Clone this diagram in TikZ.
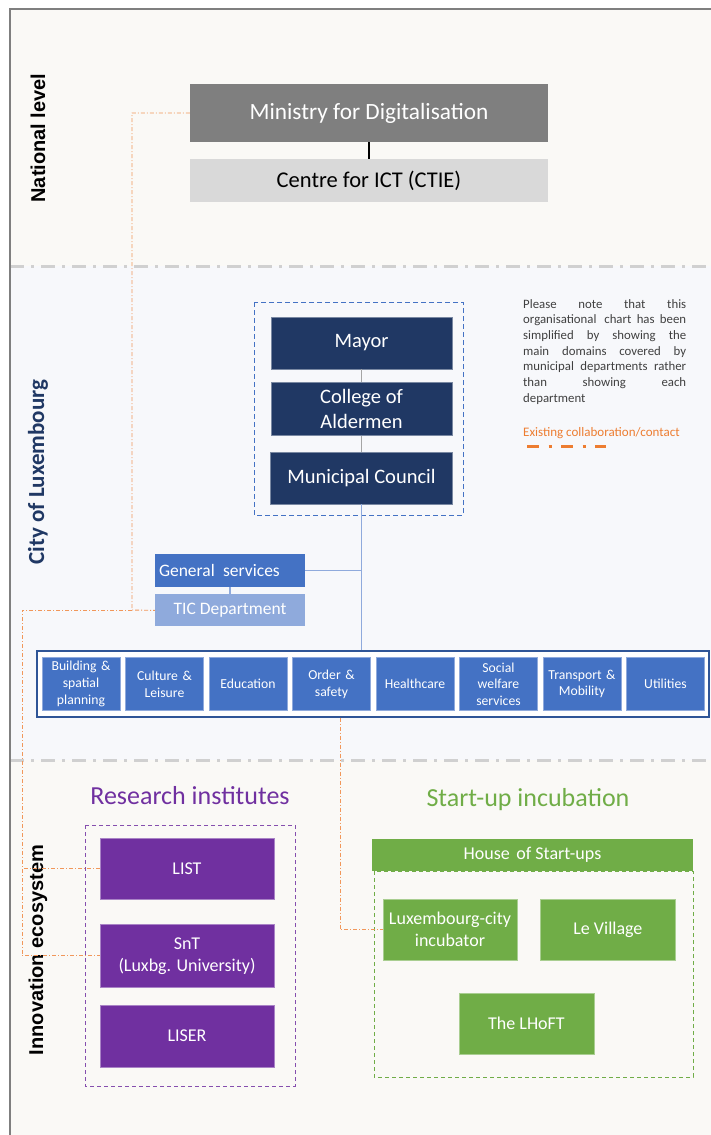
\documentclass[tikz,border=0pt]{standalone}
\usepackage{fontspec}
\setmainfont{Carlito}
\newfontfamily\sidefont{Liberation Sans}
\usetikzlibrary{positioning}

\definecolor{framegray}{HTML}{7F7F7F}
\definecolor{lightgray}{HTML}{D9D9D9}
\definecolor{sepgray}{HTML}{D0D0D0}
\definecolor{navy}{HTML}{203864}
\definecolor{offblue}{HTML}{4472C4}
\definecolor{paleblue}{HTML}{8FAADC}
\definecolor{deepblue}{HTML}{2F5597}
\definecolor{resviolet}{HTML}{7030A0}
\definecolor{incgreen}{HTML}{70AD47}
\definecolor{collaborange}{HTML}{ED7D31}
\definecolor{notegray}{HTML}{404040}
\definecolor{creambg}{HTML}{FAF9F6}
\definecolor{citybg}{HTML}{F7F8FB}

\newcommand{\noteline}[1]{\makebox[163pt][s]{#1}}

\begin{document}
\begin{tikzpicture}[x=1pt, y=-1pt, inner sep=2pt,
  box/.style={rectangle, align=center, text=white},
  sidelabel/.style={rotate=90, font=\sidefont\bfseries\fontsize{20}{24}\selectfont},
  exec/.style={box, fill=navy, draw=navy!60!white, line width=0.4pt, minimum width=181pt, font=\fontsize{20.5}{25}\selectfont},
  dept/.style={box, fill=offblue, draw=offblue!60!white, line width=0.4pt, minimum width=78pt, minimum height=53pt, text width=74pt, font=\fontsize{13.7}{16.7}\selectfont},
  research/.style={box, fill=resviolet, draw=resviolet!60!white, line width=0.4pt, minimum width=174pt, font=\fontsize{18}{22}\selectfont},
  incub/.style={box, fill=incgreen, draw=incgreen!60!white, line width=0.4pt, minimum width=134pt, minimum height=61pt, font=\fontsize{18}{22}\selectfont},
  sep/.style={sepgray, line width=3pt, dash pattern=on 14pt off 7pt on 3pt off 7pt},
  collab/.style={collaborange!80!white, line width=0.9pt, dash pattern=on 4pt off 2pt on 1pt off 2pt},
  orgline/.style={paleblue, line width=1.2pt}
]
\useasboundingbox (0,0) rectangle (711,1135);

% section backgrounds
\fill[white] (0,0) rectangle (711,1135);
\fill[creambg] (10,9) rectangle (711,266);
\fill[citybg] (10,266) rectangle (711,760);
\fill[creambg] (10,760) rectangle (711,1135);
\draw[sep] (10,266) -- (711,266);
\draw[sep] (10,760) -- (711,760);
\draw[framegray, line width=2pt] (10,1135) -- (10,9) -- (711,9);

% side labels
\node[sidelabel] (natlabel) at (38,138) {National level};
\node[sidelabel, text=navy, font=\bfseries\fontsize{23}{27}\selectfont] (citylabel) at (38,472) {City of Luxembourg};
\node[sidelabel] (innolabel) at (38,950) {Innovation ecosystem};

% national level
\node[box, fill=framegray, minimum width=358pt, minimum height=58pt, font=\fontsize{23.3}{27}\selectfont] (ministry) at (369,113) {Ministry for Digitalisation};
\node[box, fill=lightgray, text=black, minimum width=358pt, minimum height=43pt, font=\fontsize{22.5}{27}\selectfont, below=17pt of ministry] (ctie) {Centre for ICT (CTIE)};
\draw[black, line width=1.3pt] (ministry) -- (ctie);

% city of Luxembourg
\draw[offblue, line width=1pt, dash pattern=on 5pt off 3pt] (254,302) rectangle (463,515);
\node[exec, minimum height=52pt] (mayor) at (361.5,343) {Mayor};
\node[exec, minimum height=53pt, below=13pt of mayor] (college) {College of\\Aldermen};
\node[exec, minimum height=52pt, minimum width=182pt, below=16pt of college] (council) {Municipal Council};
\draw[framegray!70!white, line width=0.8pt] (mayor) -- (college);
\draw[framegray!70!white, line width=0.8pt] (college) -- (council);

\node[box, fill=offblue, minimum width=150pt, minimum height=33pt, text width=142pt, align=left, font=\fontsize{17.5}{21}\selectfont] (gensvc) at (230,570.5) {General\hspace{2.5pt} services};
\node[box, fill=paleblue, minimum width=150pt, minimum height=32pt, font=\fontsize{17.5}{21}\selectfont, below=7pt of gensvc] (tic) {TIC Department};
\draw[orgline] (gensvc) -- (tic);

\node[rectangle, fill=white, draw=deepblue, line width=1.3pt, minimum width=672pt, minimum height=66pt] (deptrow) at (373,684) {};
\draw[orgline] (council.south) -- (council.south |- deptrow.north);
\draw[orgline] (gensvc.east) -- (gensvc.east -| council.south);
\foreach \name [count=\i] in {Building \&\\ spatial\\ planning, Culture \&\\ Leisure, Education, Order \&\\ safety, Healthcare, Social\\ welfare\\ services, Transport \&\\ Mobility, Utilities}
  \node[dept] (dept\i) at ({81+83.5*(\i-1)},684) {\name};

% note and legend
\node[text=notegray, align=left, inner sep=0pt, anchor=north west, font=\fontsize{12.8}{15.7}\selectfont] (note) at (523,299)
  {\noteline{Please note that this}\\ \noteline{organisational\hspace{2.5pt} chart has been}\\ \noteline{simplified by showing the}\\
   \noteline{main domains covered by}\\ \noteline{municipal departments rather}\\ \noteline{than showing each}\\ department};
\node[text=collaborange, inner sep=0pt, anchor=west, font=\fontsize{13}{16}\selectfont] (legend) at (523,433) {Existing collaboration/contact};
\coordinate (legA) at (527,446);
\coordinate (legB) at (606,446);
\draw[collaborange, line width=3pt, dash pattern=on 12pt off 9.5pt on 3pt off 9.5pt] (legA) -- (legB);

% innovation ecosystem
\node[text=resviolet, font=\fontsize{26}{30}\selectfont] (restitle) at (190,796) {Research institutes};
\node[text=incgreen, font=\fontsize{26}{30}\selectfont] (inctitle) at (528,800) {Start-up incubation};

\draw[resviolet!85!white, line width=1pt, dash pattern=on 4pt off 3pt] (85,825) rectangle (295,1086);
\node[research, minimum height=61pt] (list) at (187,868.5) {LIST};
\node[research, minimum height=63pt, below=25pt of list] (snt) {SnT\\(Luxbg. University)};
\node[research, minimum height=62pt, below=17pt of snt] (liser) {LISER};

\draw[incgreen, line width=1pt, dash pattern=on 4pt off 3pt] (374,871) rectangle (693,1077);
\node[box, fill=incgreen, minimum width=321pt, minimum height=32pt, font=\fontsize{18}{22}\selectfont] (house) at (532.5,855) {House\hspace{2.5pt} of Start-ups};
\node[incub] (luxinc) at (450,929.5) {Luxembourg-city\\incubator};
\node[incub, minimum width=135pt, right=23pt of luxinc] (village) {Le Village};
\node[incub, minimum width=135pt] (lhoft) at (526.5,1023.5) {The LHoFT};

% collaboration links
\coordinate (bendA) at (132,610);
\coordinate (bendB) at (22,610);
\coordinate (bendC) at (340,929.5);
\draw[collab] (ministry.west) -| (bendA) -- (tic.west);
\draw[collab] (bendA) -- (bendB) |- (snt.west);
\draw[collab] (list.west) -- (list.west -| bendB);
\draw[collab] (deptrow.south -| bendC) -- (bendC) -- (luxinc.west);
\end{tikzpicture}
\end{document}
